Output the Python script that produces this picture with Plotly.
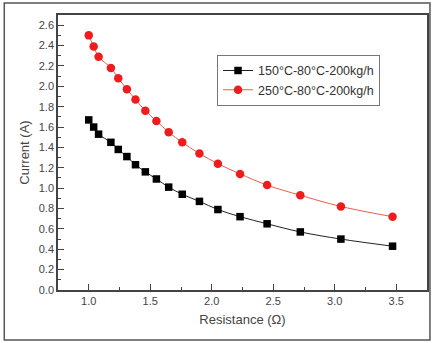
import plotly.graph_objects as go

resistance = [1.0, 1.04, 1.08, 1.18, 1.24, 1.31, 1.38, 1.46, 1.55, 1.65, 1.76, 1.90, 2.05, 2.23, 2.45, 2.72, 3.05, 3.47]
current_150 = [1.67, 1.60, 1.53, 1.45, 1.38, 1.31, 1.23, 1.16, 1.09, 1.01, 0.94, 0.87, 0.79, 0.72, 0.65, 0.57, 0.50, 0.43]
current_250 = [2.50, 2.39, 2.29, 2.18, 2.08, 1.97, 1.87, 1.76, 1.66, 1.55, 1.45, 1.34, 1.24, 1.14, 1.03, 0.93, 0.82, 0.72]
series_names = ["150\u00b0C-80\u00b0C-200kg/h", "250\u00b0C-80\u00b0C-200kg/h"]

fig = go.Figure()
fig.add_trace(go.Scatter(
    x=resistance, y=current_150, name=series_names[0], mode="lines+markers",
    line=dict(color="#222222", width=1, shape="spline"),
    marker=dict(symbol="square", size=7.5, color="black"),
))
fig.add_trace(go.Scatter(
    x=resistance, y=current_250, name=series_names[1], mode="lines+markers",
    line=dict(color="#e8604a", width=1, shape="spline"),
    marker=dict(symbol="circle", size=8.5, color="#ee1c1c"),
))

axis_common = dict(
    showline=True, linecolor="#444444", linewidth=1.5, mirror=True,
    ticks="inside", ticklen=6, tickwidth=1, tickcolor="#444444",
    showgrid=False, zeroline=False,
    tickfont=dict(family="Liberation Sans, Arial", size=11, color="#444444"),
)

fig.update_xaxes(
    range=[0.75, 3.75], tick0=1.0, dtick=0.5, tickformat=".1f",
    minor=dict(ticks="inside", ticklen=3, dtick=0.25, tick0=1.0, tickcolor="#444444"),
    title=dict(text="Resistance (\u03a9)", font=dict(family="Liberation Sans, Arial", size=13, color="#444444"), standoff=9),
    **axis_common,
)
fig.update_yaxes(
    range=[0, 2.7], tick0=0, dtick=0.2, tickformat=".1f",
    minor=dict(ticks="inside", ticklen=3, dtick=0.1, tick0=0, tickcolor="#444444"),
    title=dict(text="Current (A)", font=dict(family="Liberation Sans, Arial", size=13, color="#444444"), standoff=6),
    **axis_common,
)

fig.update_layout(
    width=434, height=343,
    margin=dict(l=58, r=5, t=15, b=53),
    paper_bgcolor="white", plot_bgcolor="white",
    showlegend=True,
    legend=dict(
        x=0.431, y=0.855, xanchor="left", yanchor="top",
        bordercolor="#777777", borderwidth=1, bgcolor="white",
        font=dict(family="Liberation Sans, Arial", size=12.5, color="#333333"),
        itemwidth=30, tracegroupgap=0,
    ),
    shapes=[dict(
        type="rect", xref="paper", yref="paper",
        x0=-0.1456, x1=1.008, y0=-0.1818, y1=1.0436,
        line=dict(color="#555555", width=1.5), layer="below",
    )],
)

fig.write_html("out.html")
